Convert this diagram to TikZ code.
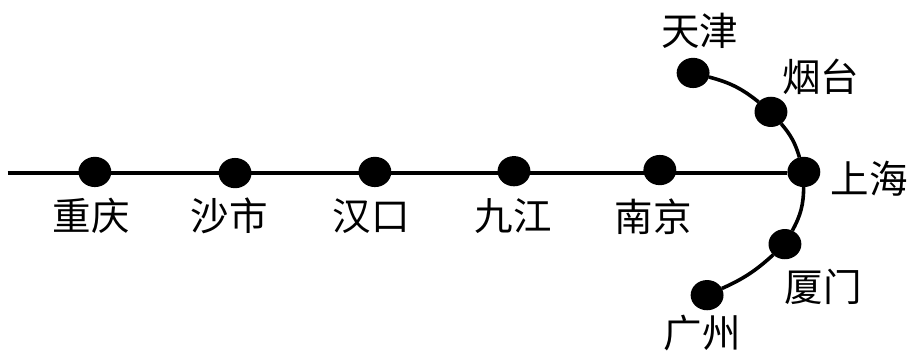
\documentclass[tikz,border=0pt]{standalone}
\usepackage{fontspec}
\newfontfamily\cjk{Noto Sans CJK SC}
\usepackage{tikz}
\usetikzlibrary{positioning,shapes.geometric}
\tikzstyle{stop} = [ellipse, fill=black, inner sep=0pt, outer sep=0pt,
                    minimum width=0.87cm, minimum height=0.8cm]
\tikzstyle{city} = [font=\cjk\fontsize{29}{29}\selectfont, inner sep=0pt]
\tikzstyle{rail} = [line width=1.2mm]
\tikzstyle{coast} = [line width=0.95mm]
\begin{document}
\begin{tikzpicture}[x=1cm,y=-1cm]
\useasboundingbox (0,0) rectangle (24,9.366);
% Line
\coordinate (west) at (0.2,4.58);
\node[stop] (chongqing) at (2.51,4.55){};
\node[stop] (shashi) at (6.22,4.58){};
\node[stop] (hankou) at (9.92,4.55){};
\node[stop] (jiujiang) at (13.6,4.53){};
\node[stop] (nanjing) at (17.46,4.5){};
\node[stop] (shanghai) at (21.27,4.55){};
\node[stop] (tianjin) at (18.34,1.93){};
\node[stop] (yantai) at (20.4,2.96){};
\node[stop] (xiamen) at (20.77,6.46){};
\node[stop] (guangzhou) at (18.71,7.81){};
\draw[rail] (west) -- (shanghai.west |- west);
\draw[coast] (tianjin) to[bend left=12] (yantai);
\draw[coast] (yantai) to[bend left=12] (shanghai);
\draw[coast] (shanghai) to[bend left=14] (xiamen);
\draw[coast] (xiamen) to[bend left=9] (guangzhou);
% Names
\node[city] (cq) at (2.41,5.72){重庆};
\node[city] (ss) at (6.06,5.72){沙市};
\node[city] (hk) at (9.82,5.72){汉口};
\node[city] (jj) at (13.58,5.72){九江};
\node[city] (nj) at (17.28,5.74){南京};
\node[city] (sh) at (23,4.74){上海};
\node[city] (tj) at (18.52,0.81){天津};
\node[city] (yt) at (21.72,2.03){烟台};
\node[city] (xm) at (21.78,7.58){厦门};
\node[city] (gz) at (18.58,8.82){广州};
\end{tikzpicture}
\end{document}
